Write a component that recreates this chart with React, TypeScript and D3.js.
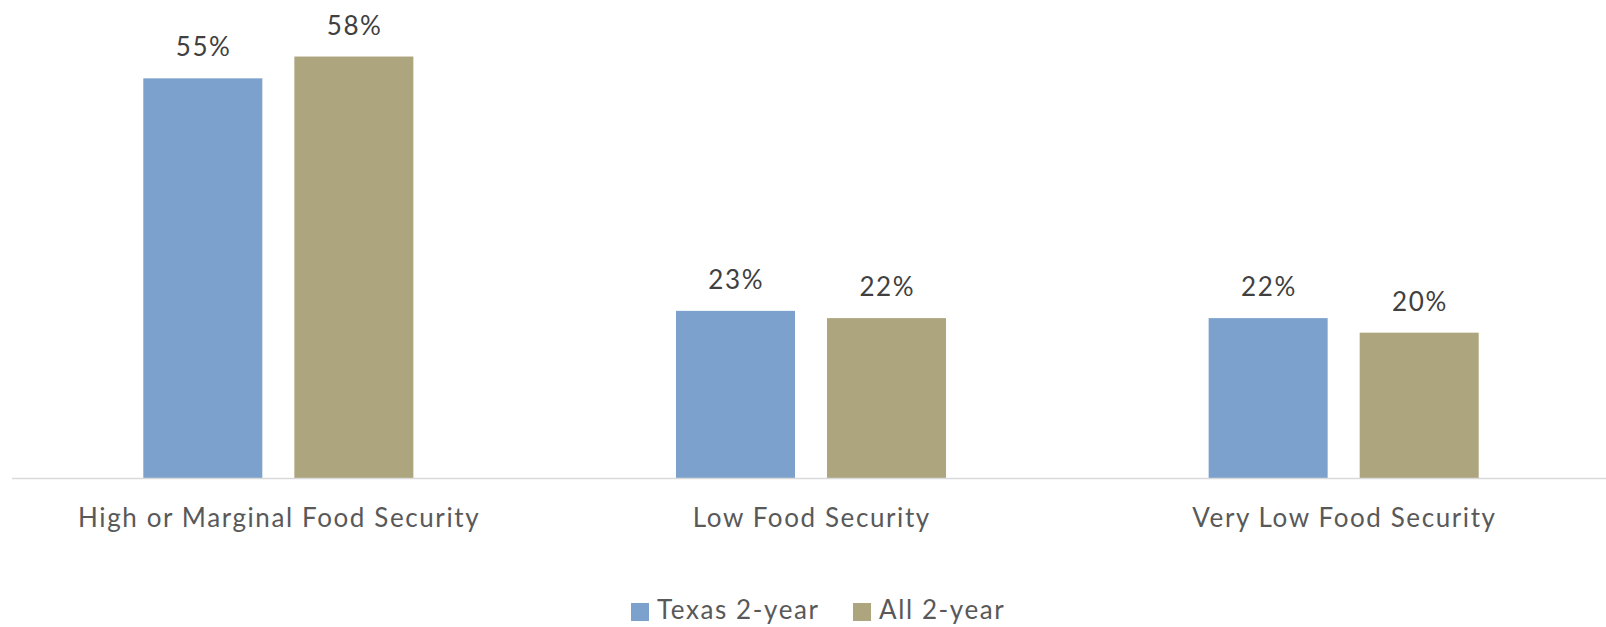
import React from "react";
import * as d3 from "d3";

const categories = ["High or Marginal Food Security", "Low Food Security", "Very Low Food Security"];
const seriesNames = ["Texas 2-year", "All 2-year"];
const texasValues = [0.55, 0.23, 0.22];
const allValues = [0.58, 0.22, 0.20];
const seriesColors = ["#7BA1CC", "#ADA57D"];

const W = 1606;
const H = 627;

export default function App() {
  const x0 = d3.scaleBand<string>().domain(categories).range([12, 1610]).paddingInner(0.493).paddingOuter(0.2465);
  const x1 = d3.scaleBand<string>().domain(seriesNames).range([0, x0.bandwidth()]).paddingInner(0.212);
  const y = d3.scaleLinear().domain([0, 0.6]).range([478, 42]);
  const series = [texasValues, allValues];
  const fmt = d3.format(".0%");
  const font = "Lato, 'Open Sans', sans-serif";
  const ls = 1.6;
  return (
    <svg width={W} height={H} style={{ position: "absolute", left: 0, top: 0, background: "#fff" }}>
      {categories.map((c, i) => (
        <g key={c}>
          {seriesNames.map((s, j) => {
            const v = series[j][i];
            const bx = (x0(c) as number) + (x1(s) as number);
            return (
              <g key={s}>
                <rect x={bx} y={y(v)} width={x1.bandwidth()} height={y(0) - y(v)} fill={seriesColors[j]} />
                <text x={bx + x1.bandwidth() / 2 + ls / 2} y={y(v) - 22} textAnchor="middle" fontFamily={font} fontSize={26} letterSpacing={ls} fill="#404040">
                  {fmt(v)}
                </text>
              </g>
            );
          })}
          <text x={(x0(c) as number) + x0.bandwidth() / 2 + ls / 2} y={527} textAnchor="middle" fontFamily={font} fontSize={26} letterSpacing={ls} fill="#595959">
            {c}
          </text>
        </g>
      ))}
      <line x1={12} x2={W} y1={478.5} y2={478.5} stroke="#D9D9D9" strokeWidth={1.5} />
      {seriesNames.map((s, j) => {
        const lx = [631, 853][j];
        return (
          <g key={s}>
            <rect x={lx} y={603} width={18} height={18} fill={seriesColors[j]} />
            <text x={lx + 26} y={619} fontFamily={font} fontSize={26} letterSpacing={ls} fill="#595959">
              {s}
            </text>
          </g>
        );
      })}
    </svg>
  );
}
